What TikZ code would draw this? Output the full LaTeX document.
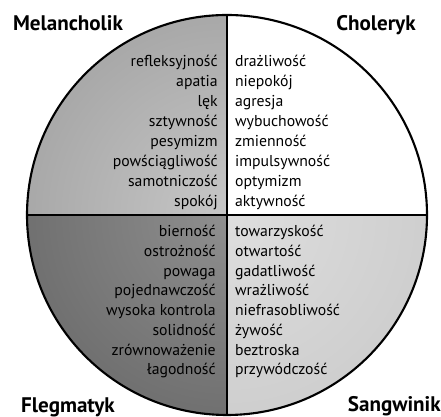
\documentclass[tikz,border=0pt]{standalone}
\usepackage{fontspec}
\setmainfont{PT Sans}
\setsansfont{PT Sans}
\begin{document}
\begin{tikzpicture}[
    font=\sffamily,
    rim/.style={draw=black, line width=1.5pt},
    divider/.style={draw=black, line width=1pt},
    trait/.style={font=\sffamily\fontsize{11.2}{13}\selectfont, text=black, inner sep=0pt},
    typename/.style={font=\sffamily\bfseries\fontsize{15}{17}\selectfont, inner sep=0pt}
]
\useasboundingbox (0,0) rectangle (11.025,10.425);
\coordinate (c) at (5.675,5.05);
\path (c) ++(180:5) coordinate (w) (c) ++(0:5) coordinate (e)
      (c) ++(90:5) coordinate (n) (c) ++(270:5) coordinate (s);

% Quadrant fills: each one clipped out of a shaded disc.
\begin{scope}
    \clip (c) -- (w) arc (180:90:5) -- cycle;
    \shade[inner color=black!22, outer color=black!34] (c) circle (5);
\end{scope}
\begin{scope}
    \clip (c) -- (w) arc (180:270:5) -- cycle;
    \shade[inner color=black!44, outer color=black!56] (c) circle (5);
\end{scope}
\begin{scope}
    \clip (c) -- (s) arc (270:360:5) -- cycle;
    \shade[inner color=black!13, outer color=black!19] (c) circle (5);
\end{scope}

\draw[divider] (w) -- (e);
\draw[divider] (n) -- (s);
\draw[rim] (c) circle (5);

% Traits, four lists of eight.
\foreach \t [count=\i from 0] in {refleksyjność, apatia, lęk, sztywność, pesymizm, powściągliwość, samotniczość, spokój}
    \node[trait, anchor=base east] (mel\i) at (5.45, 8.76-0.5*\i) {\t};
\foreach \t [count=\i from 0] in {drażliwość, niepokój, agresja, wybuchowość, zmienność, impulsywność, optymizm, aktywność}
    \node[trait, anchor=base west] (cho\i) at (5.87, 8.76-0.5*\i) {\t};
\foreach \t [count=\i from 0] in {bierność, ostrożność, powaga, pojednawczość, wysoka kontrola, solidność, zrównoważenie, łagodność}
    \node[trait, anchor=base east] (fle\i) at (5.40, 4.51-0.494*\i) {\t};
\foreach \t [count=\i from 0] in {towarzyskość, otwartość, gadatliwość, wrażliwość, niefrasobliwość, żywość, beztroska, przywódczość}
    \node[trait, anchor=base west] (san\i) at (5.87, 4.51-0.494*\i) {\t};

% Temperament names in the corners.
\node[typename] (melancholik) at (1.7,9.85) {Melancholik};
\node[typename] (choleryk) at (9.4,9.8) {Choleryk};
\node[typename] (flegmatyk) at (1.7,0.25) {Flegmatyk};
\node[typename, anchor=east] (sangwinik) at (11.025,0.27) {Sangwinik};
\end{tikzpicture}
\end{document}
